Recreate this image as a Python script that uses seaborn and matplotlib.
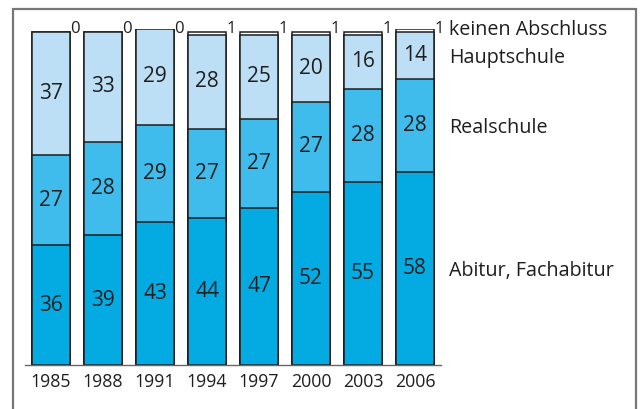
import numpy as np
import pandas as pd
import seaborn as sns
import matplotlib.pyplot as plt
from matplotlib.patches import Rectangle

years = ['1985', '1988', '1991', '1994', '1997', '2000', '2003', '2006']
abitur = [36, 39, 43, 44, 47, 52, 55, 58]
realschule = [27, 28, 29, 27, 27, 27, 28, 28]
hauptschule = [37, 33, 29, 28, 25, 20, 16, 14]
kein_abschluss = [0, 0, 0, 1, 1, 1, 1, 1]

series_names = ['Abitur, Fachabitur', 'Realschule', 'Hauptschule', 'keinen Abschluss']
colors = ['#04abe3', '#3fbcec', '#bcdff5', '#ffffff']

sns.set_style('white')
plt.rcParams['font.family'] = ['Open Sans', 'DejaVu Sans']

df = pd.DataFrame({'Jahr': years, 'Abitur': abitur, 'Real': realschule,
                   'Haupt': hauptschule, 'Kein': kein_abschluss})
parts = [df.Abitur, df.Real, df.Haupt, df.Kein]
cum = np.cumsum(np.array(parts), axis=0)

fig = plt.figure(figsize=(6.4, 4.1), dpi=100)
# 3.33 px per percent, baseline at y=366 px
ax = fig.add_axes([25 / 640, 44 / 410, 416 / 640, 101 * 3.33 / 410])

# stacked bars: draw the tallest cumulative first, smaller ones on top
for k in range(3, -1, -1):
    sns.barplot(x=df.Jahr, y=cum[k], color=colors[k], width=0.72,
                edgecolor='#1e1e1e', linewidth=1.1, saturation=1, ax=ax)

txt = '#1e1e1e'
for i in range(len(years)):
    bottom = 0
    for k in range(3):
        v = parts[k][i]
        ax.text(i, bottom + v / 2 + 0.3, str(v), ha='center', va='center',
                fontsize=15, color=txt)
        bottom += v
    ax.text(i + 0.37, 101.3, str(kein_abschluss[i]), ha='left', va='center',
            fontsize=12, color=txt, clip_on=False)

# series labels beside the last bar
last = len(years) - 1
bottom = 0
for k in range(4):
    v = parts[k][last]
    ypos = bottom + v / 2 - 0.5
    if k == 3:
        ypos = 100.8
    ax.text(7.65, ypos, series_names[k], ha='left', va='center',
            fontsize=14.2, color=txt, clip_on=False)
    bottom += v

ax.set_xlim(-0.5, 7.5)
ax.set_ylim(0, 101)
ax.set_xlabel('')
ax.set_ylabel('')
ax.set_yticks([])
ax.set_xticks(range(len(years)))
ax.set_xticklabels(years, fontsize=12.8, color=txt)
ax.set_xticks(np.arange(-0.5, 8, 1), minor=True)
ax.tick_params(axis='x', which='major', length=0, pad=5)
ax.tick_params(axis='x', which='minor', length=4, width=1, color='#666666', direction='out')
for s in ['left', 'right', 'top']:
    ax.spines[s].set_visible(False)
ax.spines['bottom'].set_color('#666666')
ax.spines['bottom'].set_linewidth(1)

# grey frame around the graphic
fig.patches.append(Rectangle((13 / 640, -0.05), 623 / 640, 1 - 10 / 410 + 0.05,
                             transform=fig.transFigure, fill=False,
                             edgecolor='#777777', linewidth=1.6))

fig.savefig('out.png', dpi=100)
